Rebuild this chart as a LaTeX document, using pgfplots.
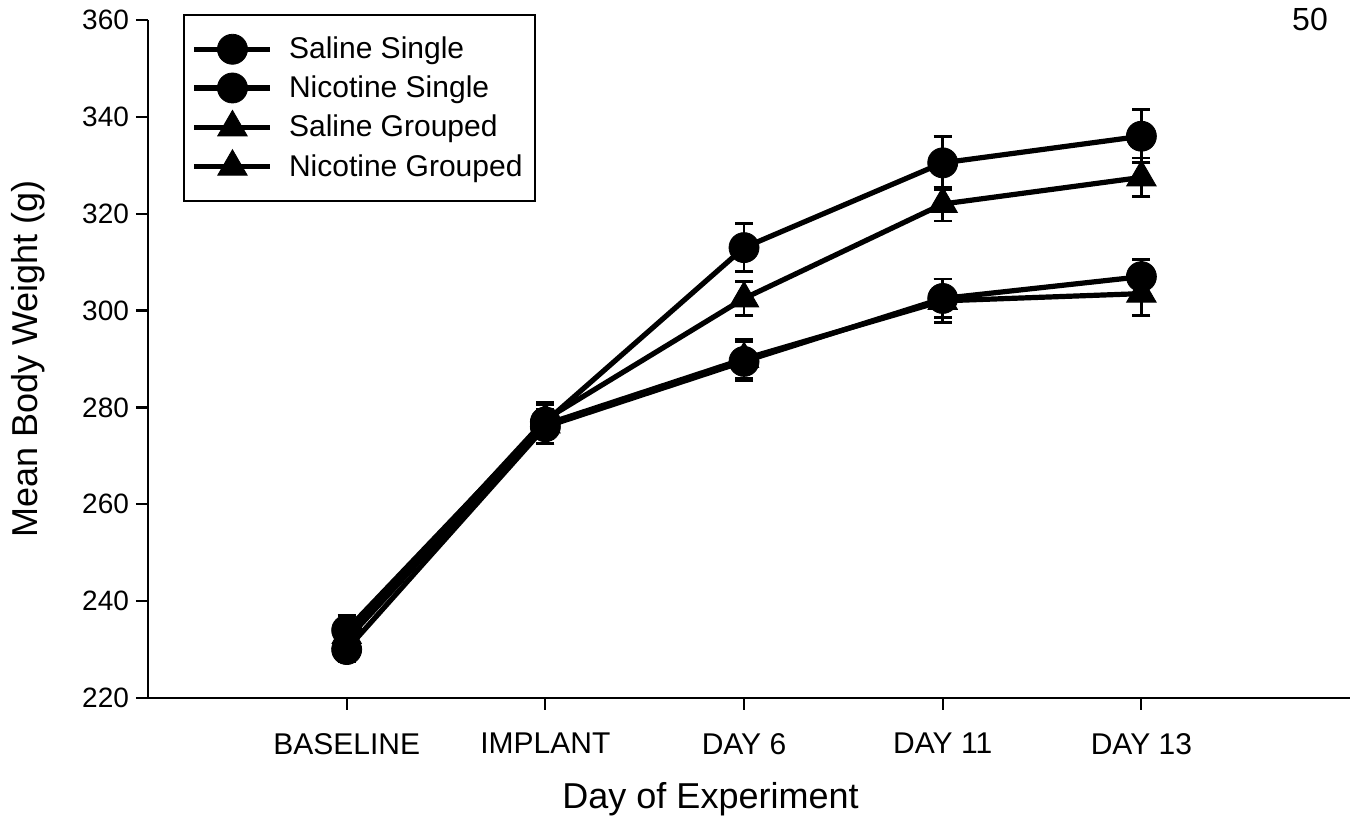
\documentclass[border=0pt]{standalone}
\usepackage{fontspec}
\setmainfont{Liberation Sans}
\usepackage{pgfplots}
\pgfplotsset{compat=1.18}

\begin{document}
\begin{tikzpicture}
\begin{axis}[
scale only axis,
width=601pt, height=339pt,
xmin=-1, xmax=5.05,
ymin=220, ymax=360,
axis lines*=left,
axis line style={line width=1.3pt},
xtick={0,1,2,3,4},
xticklabels={BASELINE,IMPLANT,DAY 6,DAY 11,DAY 13},
ytick={220,240,...,360},
tick align=outside,
major tick length=6pt,
tick style={line width=1.1pt, black},
/pgf/number format/assume math mode=true,
yticklabel style={font=\fontsize{14}{16}\selectfont},
xticklabel style={font=\fontsize{15}{17}\selectfont, yshift=-8pt},
xlabel={Day of Experiment},
ylabel={Mean Body Weight (g)},
label style={font=\fontsize{18}{20}\selectfont},
xlabel style={at={(axis description cs:0.468,-0.15)}, anchor=center},
ylabel style={at={(axis description cs:-0.1,0.5)}, anchor=center},
legend style={at={(0.029,1.009)}, anchor=north west, draw=black, line width=1pt,
  font=\fontsize{15}{17}\selectfont, inner xsep=4pt, inner ysep=9pt,
  row sep=3pt},
legend cell align=left,
legend image code/.code={\draw[mark repeat=2,mark phase=2] plot coordinates {(0pt,0pt)(19pt,0pt)(38pt,0pt)};
  \path (44pt,0pt);},
every axis plot/.append style={
  error bars/y dir=both, error bars/y explicit,
  error bars/error bar style={line width=1.4pt, black},
  error bars/error mark options={rotate=90, mark size=4.5pt, line width=1.4pt, black}},
]
% Saline Single
\addplot[black, line width=2.6pt, mark=*, mark size=7.5pt, mark options={fill=black, solid, line width=0.4pt}]
coordinates {(0,234) +- (0,3) (1,277) +- (0,3.5) (2,313) +- (0,5) (3,330.5) +- (0,5.5) (4,336) +- (0,5.5)};
\addlegendentry{Saline Single}
% Nicotine Single
\addplot[black, line width=2.6pt, mark=*, mark size=7.5pt, mark options={fill=black, solid, line width=0.4pt}]
coordinates {(0,230) +- (0,2.5) (1,276) +- (0,3.5) (2,289.5) +- (0,4) (3,302.5) +- (0,4) (4,307) +- (0,3.5)};
\addlegendentry{Nicotine Single}
% Saline Grouped
\addplot[black, line width=2.6pt, mark=triangle*, mark size=8.5pt, mark options={fill=black, solid, line width=0.4pt}]
coordinates {(0,233) +- (0,3) (1,277.5) +- (0,3.5) (2,302.5) +- (0,3.5) (3,322) +- (0,3.5) (4,327.5) +- (0,4)};
\addlegendentry{Saline Grouped}
% Nicotine Grouped
\addplot[black, line width=2.6pt, mark=triangle*, mark size=8.5pt, mark options={fill=black, solid, line width=0.4pt}]
coordinates {(0,232) +- (0,3) (1,276.5) +- (0,4) (2,290) +- (0,4) (3,302) +- (0,4.5) (4,303.5) +- (0,4.5)};
\addlegendentry{Nicotine Grouped}
\end{axis}
\node[font=\fontsize{16}{18}\selectfont] at (581pt,339pt) {50};
\pgfresetboundingbox
\useasboundingbox (-74pt,-62.5pt) rectangle (601.5pt,349pt);
\end{tikzpicture}
\end{document}
